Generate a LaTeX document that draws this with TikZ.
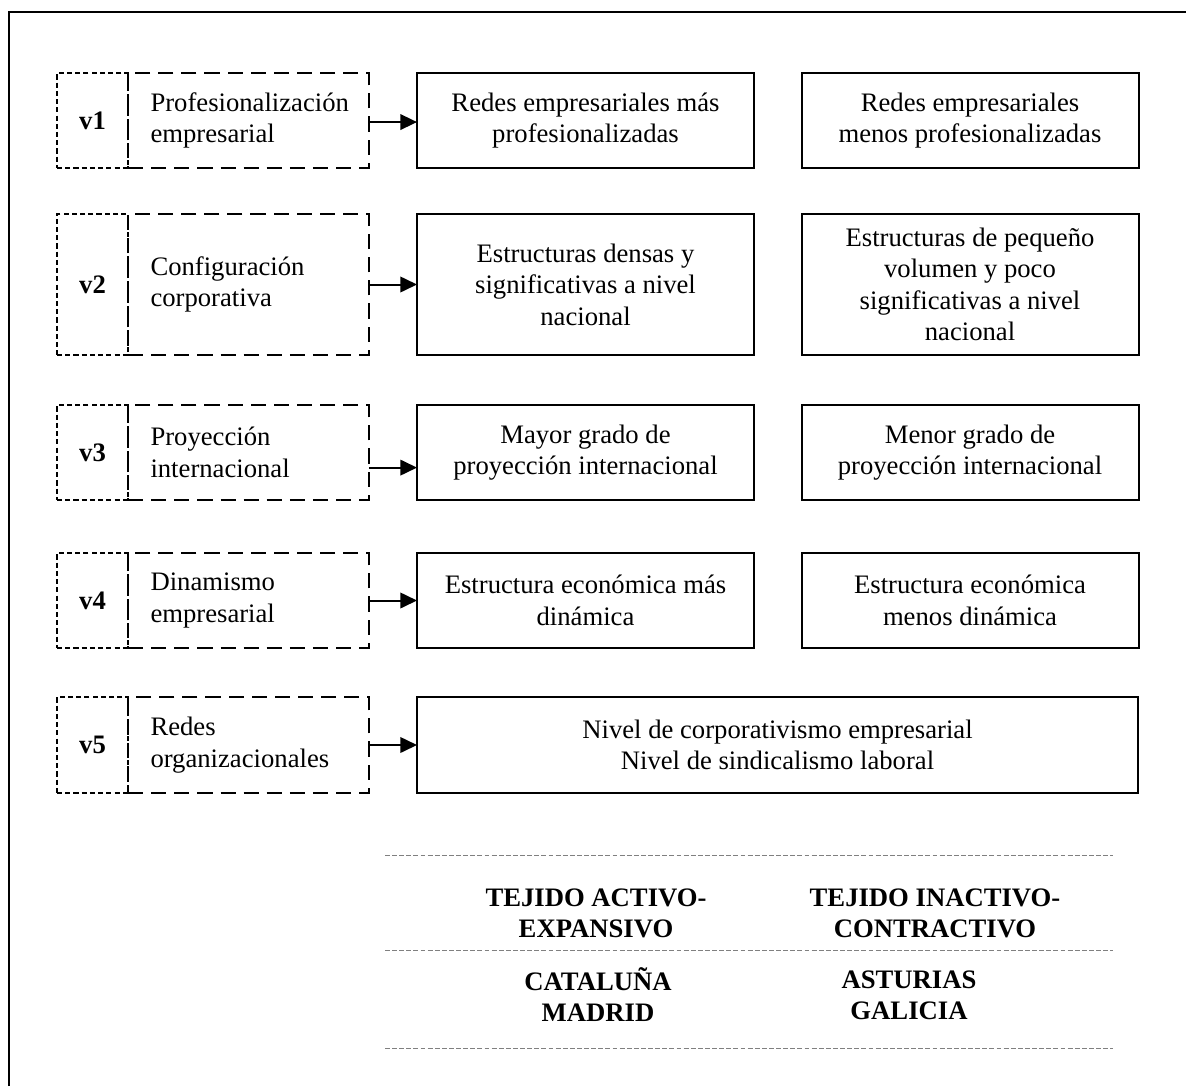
\documentclass[tikz,border=0pt]{standalone}
\usepackage{fontspec}
\setmainfont{Liberation Serif}
\usetikzlibrary{arrows.meta}

\begin{document}
\begin{tikzpicture}[
  x=0.45pt, y=-0.45pt,
  every node/.style={font=\fontsize{12}{14.2}\selectfont, inner sep=0pt, outer sep=0pt},
  vbox/.style={draw, line width=0.9pt, dash pattern=on 2.3pt off 1.4pt,
               minimum width=31.95pt, font=\fontsize{12}{14.2}\selectfont\bfseries},
  tbox/.style={draw, line width=0.9pt, dash pattern=on 6.8pt off 3.6pt,
               text width=88.2pt, inner xsep=10.1pt, align=left},
  rbox/.style={draw, line width=0.9pt, minimum width=151.65pt, align=center},
  arr/.style={line width=0.9pt, -{Triangle[length=7.5pt,width=7pt]}},
  sep/.style={gray, line width=0.45pt, dash pattern=on 2.2pt off 1pt},
  hdr/.style={font=\fontsize{12}{14}\selectfont\bfseries, align=center}
]
\useasboundingbox (0,0) rectangle (1186,1086);

% outer frame (only its top and left edges fall inside the page)
\draw[line width=0.9pt] (9,1086) -- (9,12) -- (1186,12);

% row 1
\node[vbox, minimum height=42.75pt] (v1) at (92.5,120.5) {v1};
\node[tbox, minimum height=42.75pt] (t1) at (248.5,120.5) {Profesionalización\\empresarial};
\node[rbox, minimum height=42.75pt] (m1) at (585.5,120.5) {Redes empresariales más\\profesionalizadas};
\node[rbox, minimum height=42.75pt] (n1) at (970,120.5) {Redes empresariales\\menos profesionalizadas};
\draw[arr] ([yshift=-0.7pt]t1.east) -- ([yshift=-0.7pt]m1.west);

% row 2
\node[vbox, minimum height=63.45pt] (v2) at (92.5,284.5) {v2};
\node[tbox, minimum height=63.45pt] (t2) at (248.5,284.5) {Configuración\\corporativa};
\node[rbox, minimum height=63.45pt] (m2) at (585.5,284.5) {Estructuras densas y\\significativas a nivel\\nacional};
\node[rbox, minimum height=63.45pt] (n2) at (970,284.5) {Estructuras de pequeño\\volumen y poco\\significativas a nivel\\nacional};
\draw[arr] (t2.east) -- (m2.west);

% row 3
\node[vbox, minimum height=42.75pt] (v3) at (92.5,452.5) {v3};
\node[tbox, minimum height=42.75pt] (t3) at (248.5,452.5) {Proyección\\internacional};
\node[rbox, minimum height=42.75pt] (m3) at (585.5,452.5) {Mayor grado de\\proyección internacional};
\node[rbox, minimum height=42.75pt] (n3) at (970,452.5) {Menor grado de\\proyección internacional};
\draw[arr] ([yshift=-6.8pt]t3.east) -- ([yshift=-6.8pt]m3.west);

% row 4
\node[vbox, minimum height=42.75pt] (v4) at (92.5,600.5) {v4};
\node[tbox, minimum height=42.75pt] (t4) at (248.5,600.5) {Dinamismo\\empresarial};
\node[rbox, minimum height=42.75pt] (m4) at (585.5,600.5) {Estructura económica más\\dinámica};
\node[rbox, minimum height=42.75pt] (n4) at (970,600.5) {Estructura económica\\menos dinámica};
\draw[arr] (t4.east) -- (m4.west);

% row 5
\node[vbox, minimum height=43.2pt] (v5) at (92.5,745) {v5};
\node[tbox, minimum height=43.2pt] (t5) at (248.5,745) {Redes\\organizacionales};
\node[rbox, minimum height=43.2pt, minimum width=324.45pt] (m5) at (777.5,745) {Nivel de corporativismo empresarial\\Nivel de sindicalismo laboral};
\draw[arr] (t5.east) -- (m5.west);

% summary table
\draw[sep] (385,855) -- (1113,855);
\draw[sep] (385,950) -- (1113,950);
\draw[sep] (385,1048) -- (1113,1048);

\node[hdr] (h1) at (596,913.5) {TEJIDO ACTIVO-\\EXPANSIVO};
\node[hdr] (h2) at (935,913.5) {TEJIDO INACTIVO-\\CONTRACTIVO};
\node[hdr] (g1) at (598,995) {CATALUÑA\\MADRID};
\node[hdr] (g2) at (909,995) {ASTURIAS\\GALICIA};
\end{tikzpicture}
\end{document}
